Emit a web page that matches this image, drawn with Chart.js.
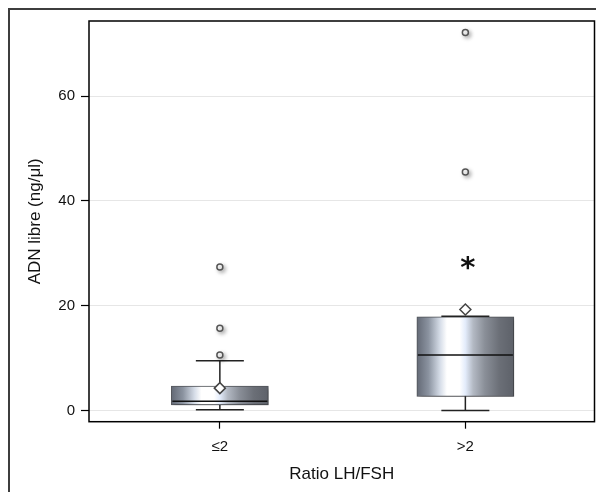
<!DOCTYPE html>
<html>
<head>
<meta charset="utf-8">
<script src="https://cdn.jsdelivr.net/npm/chart.js@4.4.1/dist/chart.umd.min.js"></script>
<style>
  html, body { margin: 0; padding: 0; background: #fff; overflow: hidden; }
  #wrap { position: relative; width: 596px; height: 492px; }
  #frame { position: absolute; left: 8px; top: 8px; width: 700px; height: 600px; border: 2px solid #3d3d3d; pointer-events: none; }
</style>
</head>
<body>
<div id="wrap">
  <canvas id="graficoCaja" width="596" height="492"></canvas>
  <div id="frame"></div>
</div>
<script>
// Datos
const categorias = ['≤2', '>2'];
const q1 = [1.1, 2.7];
const mediana = [1.8, 10.6];
const q3 = [4.7, 17.9];
const bigoteBajo = [0.2, 0.05];
const bigoteAlto = [9.5, 18.0];
const media = [4.3, 19.3];
const atipicos = [[10.6, 15.7, 27.4], [45.5, 72.1]];
const marcaSig = { x: 1.01, y: 28.1, texto: '*' };
const yTicks = [0, 20, 40, 60];

const FUENTE = "'Liberation Sans', Arial, sans-serif";
const anchoCaja = 97;

function degradado(c) {
    const chart = c.chart;
    const x = chart.scales.x;
    if (!chart.chartArea || !x) return '#9aa0aa';
    const cx = x.getPixelForValue(c.dataIndex);
    const g = chart.ctx.createLinearGradient(cx - anchoCaja / 2, 0, cx + anchoCaja / 2, 0);
    g.addColorStop(0, '#636975');
    g.addColorStop(0.12, '#8b93a0');
    g.addColorStop(0.24, '#d6dde8');
    g.addColorStop(0.31, '#ffffff');
    g.addColorStop(0.44, '#ffffff');
    g.addColorStop(0.5, '#e3ecfb');
    g.addColorStop(0.58, '#b3b9c3');
    g.addColorStop(0.7, '#8a8f98');
    g.addColorStop(0.85, '#6b6f77');
    g.addColorStop(1, '#5d6169');
    return g;
}

// sombras, marco del area y asterisco
const extras = {
    id: 'extras',
    beforeDatasetDraw(chart, args) {
        const ds = chart.data.datasets[args.index];
        if (!ds.sombra) return;
        const ctx = chart.ctx;
        ctx.save();
        ctx.shadowColor = ds.sombra;
        ctx.shadowBlur = 4;
        ctx.shadowOffsetX = 2;
        ctx.shadowOffsetY = 2;
    },
    afterDatasetDraw(chart, args) {
        const ds = chart.data.datasets[args.index];
        if (ds.sombra) chart.ctx.restore();
    },
    afterDraw(chart) {
        const { ctx, chartArea: a, scales } = chart;
        ctx.save();
        ctx.strokeStyle = '#000';
        ctx.lineWidth = 1.5;
        ctx.strokeRect(a.left, a.top, a.right - a.left, a.bottom - a.top);
        ctx.fillStyle = '#111';
        ctx.font = "bold 29px 'DejaVu Sans', sans-serif";
        ctx.textAlign = 'center';
        ctx.textBaseline = 'alphabetic';
        const m = ctx.measureText(marcaSig.texto);
        const px = scales.x.getPixelForValue(marcaSig.x);
        const py = scales.y.getPixelForValue(marcaSig.y);
        ctx.fillText(marcaSig.texto, px, py + (m.actualBoundingBoxAscent - m.actualBoundingBoxDescent) / 2);
        ctx.restore();
    }
};

const datasets = [];
categorias.forEach((c, i) => {
    datasets.push({
        type: 'line', order: 6,
        data: [{ x: i, y: bigoteBajo[i] }, { x: i, y: bigoteAlto[i] }],
        borderColor: '#222', borderWidth: 1.5, pointRadius: 0
    });
});
datasets.push({
    type: 'bar', order: 5,
    data: categorias.map((c, i) => ({ x: i, y: [q1[i], q3[i]] })),
    backgroundColor: degradado,
    borderColor: '#55585e', borderWidth: 1, borderSkipped: false,
    barThickness: anchoCaja,
    sombra: 'rgba(0,0,0,0.35)'
});
datasets.push({
    type: 'scatter', order: 4,
    data: categorias.flatMap((c, i) => [{ x: i, y: bigoteBajo[i] }, { x: i, y: bigoteAlto[i] }]),
    pointStyle: 'line', pointRadius: 24, borderColor: '#222', borderWidth: 1.5
});
datasets.push({
    type: 'scatter', order: 3,
    data: categorias.map((c, i) => ({ x: i, y: mediana[i] })),
    pointStyle: 'line', pointRadius: 47.5, borderColor: '#111', borderWidth: 1.5
});
datasets.push({
    type: 'scatter', order: 2,
    data: categorias.flatMap((c, i) => atipicos[i].map(v => ({ x: i, y: v }))),
    pointStyle: 'circle', pointRadius: 3, borderColor: '#555', backgroundColor: '#fff', borderWidth: 1.5,
    sombra: 'rgba(0,0,0,0.3)'
});
datasets.push({
    type: 'scatter', order: 1,
    data: categorias.map((c, i) => ({ x: i, y: media[i] })),
    pointStyle: 'rectRot', pointRadius: 5.5, borderColor: '#444', backgroundColor: '#fff', borderWidth: 1.5
});

new Chart(document.getElementById('graficoCaja'), {
    type: 'bar',
    data: { datasets },
    options: {
        responsive: false,
        animation: false,
        devicePixelRatio: 1,
        layout: { autoPadding: false, padding: { top: 21, right: 1.5, left: 0, bottom: 0 } },
        plugins: { legend: { display: false }, tooltip: { enabled: false } },
        scales: {
            x: {
                type: 'linear', min: -0.533, max: 1.526, offset: false,
                afterBuildTicks: s => { s.ticks = categorias.map((c, i) => ({ value: i })); },
                afterFit: s => { s.height = 70.3; },
                ticks: { callback: v => categorias[v], color: '#111', font: { family: FUENTE, size: 15 }, padding: 9, maxRotation: 0 },
                grid: { offset: false, drawOnChartArea: false, tickLength: 7, tickColor: '#000', tickWidth: 1.2 },
                border: { display: false },
                title: { display: true, text: 'Ratio LH/FSH', color: '#111', font: { family: FUENTE, size: 17 }, padding: { top: 0, bottom: 7 } }
            },
            y: {
                min: -2.1, max: 74.3,
                afterBuildTicks: s => { s.ticks = yTicks.map(v => ({ value: v })); },
                afterFit: s => { s.width = 89; },
                ticks: { color: '#111', font: { family: FUENTE, size: 15 }, padding: 6 },
                grid: { color: '#e6e6e6', lineWidth: 1, tickLength: 8, tickColor: '#000', tickWidth: 1.2 },
                border: { display: false },
                title: { display: true, text: 'ADN libre (ng/μl)', color: '#111', font: { family: FUENTE, size: 17 }, padding: { top: 25, bottom: 0 } }
            }
        }
    },
    plugins: [extras]
});
</script>
</body>
</html>
